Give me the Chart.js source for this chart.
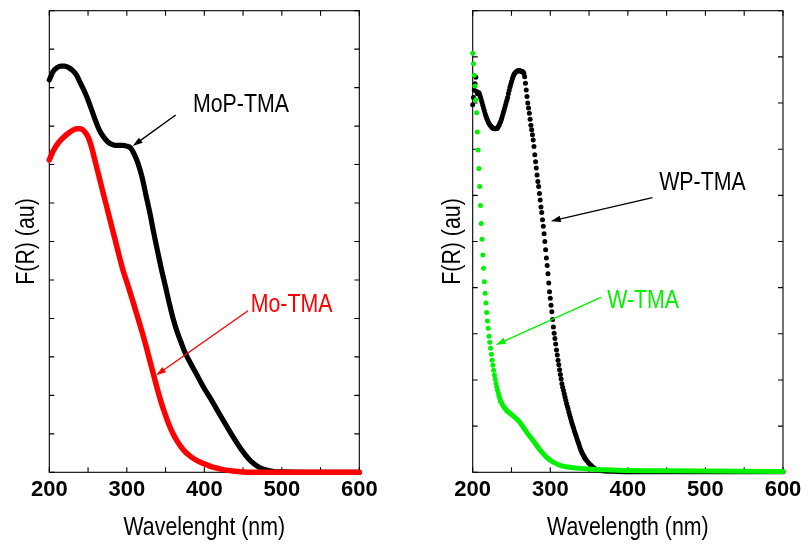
<!DOCTYPE html>
<html>
<head>
<meta charset="utf-8">
<script src="https://cdn.jsdelivr.net/npm/chart.js@4.4.1/dist/chart.umd.min.js"></script>
<style>
  html, body { margin: 0; padding: 0; background: #fff; }
  #wrap { position: relative; width: 808px; height: 546px; }
  #wrap canvas { position: absolute; top: 0; }
  #molyb { left: 0; }
  #tung { left: 404px; }
</style>
</head>
<body>
<div id="wrap">
  <canvas id="molyb" width="404" height="546"></canvas>
  <canvas id="tung" width="404" height="546"></canvas>
</div>
<script>
// ---- Molybdenum samples: diffuse reflectance, Kubelka-Munk F(R) ----
const wlMo = [200,205,210,215,220,225,230,235,240,245,
              250,255,260,265,270,275,280,285,290,295,
              300,305,310,315,320,325,330,335,340,345,
              350,355,360,365,370,375,380,385,390,395,
              400,410,420,430,440,450,460,470,480,490,
              500,525,550,575,600];
const moPTMA = [10.2,10.42,10.52,10.56,10.56,10.52,10.45,10.33,10.12,9.92,
                9.68,9.4,9.12,8.88,8.72,8.6,8.53,8.5,8.5,8.5,
                8.48,8.43,8.25,8.0,7.65,7.18,6.72,6.2,5.72,5.25,
                4.82,4.38,3.98,3.65,3.38,3.12,2.92,2.73,2.55,2.36,
                2.18,1.85,1.5,1.16,0.83,0.53,0.29,0.14,0.06,0.02,
                0.01,0,0,0,0];
const moTMA = [8.12,8.35,8.52,8.64,8.74,8.82,8.89,8.93,8.93,8.87,
               8.72,8.42,8.02,7.62,7.22,6.83,6.43,6.04,5.64,5.26,
               4.95,4.63,4.3,3.97,3.63,3.27,2.88,2.5,2.12,1.78,
               1.48,1.21,0.99,0.81,0.66,0.54,0.45,0.37,0.31,0.26,
               0.22,0.14,0.09,0.05,0.03,0.01,0,0,0,0,
               0,0,0,0,0];

// ---- Tungsten samples ----
// WP-TMA, measured every 1 nm from 200 nm to 345 nm
const wpStart = 200;
const wpTMA = [7.96,8.12,8.28,8.42,8.56,8.25,8.2,8.22,8.22,8.18,
               8.13,8.07,8.01,7.95,7.89,7.83,7.77,7.72,7.67,7.63,
               7.59,7.56,7.53,7.51,7.49,7.47,7.46,7.45,7.44,7.44,
               7.44,7.45,7.46,7.49,7.52,7.56,7.6,7.65,7.7,7.76,
               7.82,7.88,7.94,8.0,8.06,8.12,8.2,8.27,8.34,8.4,
               8.46,8.52,8.57,8.61,8.64,8.66,8.68,8.69,8.7,8.7,
               8.7,8.7,8.69,8.69,8.68,8.67,8.64,8.57,8.43,8.28,
               8.14,8.0,7.89,7.78,7.65,7.52,7.42,7.31,7.2,7.06,
               6.88,6.73,6.59,6.44,6.3,6.19,6.04,5.9,5.75,5.63,
               5.47,5.33,5.17,5.0,4.82,4.64,4.48,4.3,4.1,3.91,
               3.77,3.62,3.48,3.31,3.15,3.01,2.9,2.78,2.65,2.54,
               2.43,2.33,2.22,2.12,2.02,1.92,1.84,1.77,1.7,1.63,
               1.56,1.49,1.43,1.37,1.3,1.24,1.18,1.12,1.06,1.01,
               0.96,0.9,0.85,0.8,0.75,0.7,0.65,0.6,0.55,0.5,
               0.46,0.42,0.39,0.36,0.33,0.3];
// WP-TMA baseline beyond 345 nm
const wlWpTail = [345,350,355,360,365,370,380,400,450,500,550,600];
const wpTMATail = [0.3,0.19,0.11,0.06,0.04,0.03,0.02,0.01,0.01,0.01,0.01,0.01];

// W-TMA, measured every 1 nm from 200 nm to 236 nm
const wStart = 200;
const wTMA = [9.08,8.85,8.6,8.37,8.07,7.79,7.37,6.98,6.58,6.19,
              5.78,5.39,5.05,4.71,4.42,4.13,3.88,3.67,3.46,3.28,
              3.12,2.95,2.82,2.69,2.56,2.43,2.32,2.21,2.11,2.02,
              1.93,1.85,1.78,1.71,1.65,1.59,1.54];
// W-TMA beyond 236 nm
const wlWTail = [236,240,245,250,255,260,265,270,275,280,
                 285,290,295,300,305,310,315,320,330,340,
                 350,360,380,400,450,500,550,600];
const wTMATail = [1.54,1.42,1.32,1.25,1.18,1.1,0.98,0.86,0.75,0.64,
                  0.52,0.42,0.33,0.26,0.21,0.17,0.14,0.12,0.1,0.085,
                  0.07,0.06,0.05,0.04,0.035,0.03,0.025,0.02];

// Axis labels
const xTicks = [200, 300, 400, 500, 600];
const xTitleMo = 'Wavelenght (nm)';
const xTitleW = 'Wavelength (nm)';
const yTitle = 'F(R) (au)';

// ---- fonts ----
function fontAvailable(name) {
  const c = document.createElement('canvas').getContext('2d');
  const probe = 'MoP-TMA Wavelength (nm)';
  c.font = '40px monospace';
  const a = c.measureText(probe).width;
  c.font = '40px ' + name + ', monospace';
  return Math.abs(c.measureText(probe).width - a) > 0.5;
}
const narrowOK = fontAvailable('"Liberation Sans Narrow"');
const labelFamily = narrowOK ? '"Liberation Sans Narrow", sans-serif' : '"Liberation Sans", Arial, sans-serif';
const squeeze = narrowOK ? 1 : 0.82;
const tickFamily = '"Liberation Sans", Arial, sans-serif';

const RED = '#ff0000', GREEN = '#00f200', BLACK = '#000000';

const pairs = (xs, ys) => ys.map((v, i) => ({ x: xs[i], y: v }));
const stepPairs = (x0, ys) => ys.map((v, i) => ({ x: x0 + i, y: v }));

// frame with inward ticks on all four sides
const framePlugin = {
  id: 'frame',
  beforeDatasetsDraw(chart, _args, o) {
    const { ctx, chartArea: a, scales: { x, y } } = chart;
    ctx.save();
    ctx.strokeStyle = '#000';
    ctx.lineWidth = 1.1;
    ctx.strokeRect(a.left, a.top, a.right - a.left, a.bottom - a.top);
    ctx.beginPath();
    for (let v = x.min; v <= x.max + 1e-6; v += o.xStep) {
      const p = x.getPixelForValue(v);
      ctx.moveTo(p, a.bottom); ctx.lineTo(p, a.bottom - o.len);
      ctx.moveTo(p, a.top); ctx.lineTo(p, a.top + o.len);
    }
    for (let v = y.min; v <= y.max + 1e-6; v += o.yStep) {
      const p = y.getPixelForValue(v);
      ctx.moveTo(a.left, p); ctx.lineTo(a.left + o.len, p);
      ctx.moveTo(a.right, p); ctx.lineTo(a.right - o.len, p);
    }
    ctx.stroke();
    ctx.restore();
  }
};

function squeezedText(ctx, text, px, py, align, rot) {
  ctx.save();
  ctx.translate(px, py);
  ctx.rotate(rot);
  ctx.scale(squeeze, 1);
  ctx.textAlign = align;
  ctx.fillText(text, 0, 0);
  ctx.restore();
}

// axis titles and arrow annotations
const notesPlugin = {
  id: 'notes',
  afterDraw(chart, _args, o) {
    const { ctx, chartArea: a, scales: { x, y } } = chart;
    ctx.save();
    ctx.font = o.size + 'px ' + labelFamily;
    ctx.fillStyle = '#000';
    ctx.textBaseline = 'alphabetic';
    squeezedText(ctx, o.xTitle, (a.left + a.right) / 2, o.xTitleBase, 'center', 0);
    squeezedText(ctx, o.yTitle, o.yTitleBase, (a.top + a.bottom) / 2, 'center', -Math.PI / 2);
    for (const n of o.items) {
      ctx.fillStyle = n.color;
      ctx.strokeStyle = n.color;
      ctx.textBaseline = 'middle';
      squeezedText(ctx, n.text, x.getPixelForValue(n.at[0]), y.getPixelForValue(n.at[1]), 'left', 0);
      const x0 = x.getPixelForValue(n.from[0]), y0 = y.getPixelForValue(n.from[1]);
      const x1 = x.getPixelForValue(n.to[0]), y1 = y.getPixelForValue(n.to[1]);
      const ang = Math.atan2(y1 - y0, x1 - x0);
      const hl = 10, hw = 3.2;
      ctx.lineWidth = 1.4;
      ctx.beginPath();
      ctx.moveTo(x0, y0);
      ctx.lineTo(x1 - Math.cos(ang) * hl * 0.8, y1 - Math.sin(ang) * hl * 0.8);
      ctx.stroke();
      ctx.beginPath();
      ctx.moveTo(x1, y1);
      ctx.lineTo(x1 - Math.cos(ang) * hl - Math.sin(ang) * hw, y1 - Math.sin(ang) * hl + Math.cos(ang) * hw);
      ctx.lineTo(x1 - Math.cos(ang) * hl + Math.sin(ang) * hw, y1 - Math.sin(ang) * hl - Math.cos(ang) * hw);
      ctx.closePath();
      ctx.fill();
    }
    ctx.restore();
  }
};

function baseOptions(box, yMax, xTitle, yTitleBase, items) {
  return {
    responsive: false,
    animation: false,
    devicePixelRatio: 1,
    events: [],
    layout: { autoPadding: false, padding: { left: 0, top: box.top, right: box.right, bottom: 0 } },
    plugins: {
      legend: { display: false },
      tooltip: { enabled: false },
      frame: { xStep: 50, yStep: 1, len: 5 },
      notes: { size: 26, xTitle: xTitle, xTitleBase: 535, yTitle: yTitle, yTitleBase: yTitleBase, items: items }
    },
    scales: {
      x: {
        type: 'linear', min: 200, max: 600,
        afterBuildTicks: s => { s.ticks = xTicks.map(v => ({ value: v })); },
        afterFit: s => { s.height = box.xAxisH; },
        grid: { display: false, drawTicks: false },
        border: { display: false },
        ticks: { color: '#000', padding: 4, maxRotation: 0, autoSkip: false,
                 font: { family: tickFamily, size: 22, weight: 'bold' } }
      },
      y: {
        type: 'linear', min: 0, max: yMax,
        afterFit: s => { s.width = box.left; },
        grid: { display: false, drawTicks: false },
        border: { display: false },
        ticks: { display: false }
      }
    }
  };
}

const lineStyle = (color, w) => ({
  showLine: true, borderColor: color, borderWidth: w, pointRadius: 0,
  cubicInterpolationMode: 'monotone', borderJoinStyle: 'round', borderCapStyle: 'round', clip: false
});
const dotStyle = (color, r) => ({
  showLine: false, backgroundColor: color, borderColor: color, pointRadius: r,
  pointBorderWidth: 0, pointHoverRadius: 0, clip: false
});

// left panel: molybdenum
new Chart(document.getElementById('molyb'), {
  type: 'scatter',
  data: {
    datasets: [
      Object.assign({ label: 'Mo-TMA', data: pairs(wlMo, moTMA) }, lineStyle(RED, 5.5)),
      Object.assign({ label: 'MoP-TMA', data: pairs(wlMo, moPTMA) }, lineStyle(BLACK, 5.2))
    ]
  },
  options: baseOptions(
    { left: 49.3, top: 10.7, right: 44.7, xAxisH: 73.7 }, 12, xTitleMo, 34,
    [
      { text: 'MoP-TMA', color: BLACK, at: [385.4, 9.55], from: [363.1, 9.29], to: [307.6, 8.48] },
      { text: 'Mo-TMA', color: RED, at: [459.9, 4.35], from: [456.4, 4.2], to: [337.7, 2.52] }
    ]),
  plugins: [framePlugin, notesPlugin]
});

// right panel: tungsten
new Chart(document.getElementById('tung'), {
  type: 'scatter',
  data: {
    datasets: [
      Object.assign({ label: 'W-TMA', data: stepPairs(wStart, wTMA) }, dotStyle(GREEN, 2.5)),
      Object.assign({ label: 'W-TMA', data: pairs(wlWTail, wTMATail) }, lineStyle(GREEN, 5)),
      Object.assign({ label: 'WP-TMA', data: stepPairs(wpStart, wpTMA) }, dotStyle(BLACK, 2.5)),
      Object.assign({ label: 'WP-TMA', data: pairs(wlWpTail, wpTMATail) }, lineStyle(BLACK, 5))
    ]
  },
  options: baseOptions(
    { left: 68.7, top: 10.7, right: 25, xAxisH: 73.7 }, 10, xTitleW, 56,
    [
      { text: 'WP-TMA', color: BLACK, at: [440.4, 6.27], from: [431.7, 5.95], to: [300.6, 5.44] },
      { text: 'W-TMA', color: GREEN, at: [373.3, 3.71], from: [365.2, 3.79], to: [229.7, 2.76] }
    ]),
  plugins: [framePlugin, notesPlugin]
});
</script>
</body>
</html>
